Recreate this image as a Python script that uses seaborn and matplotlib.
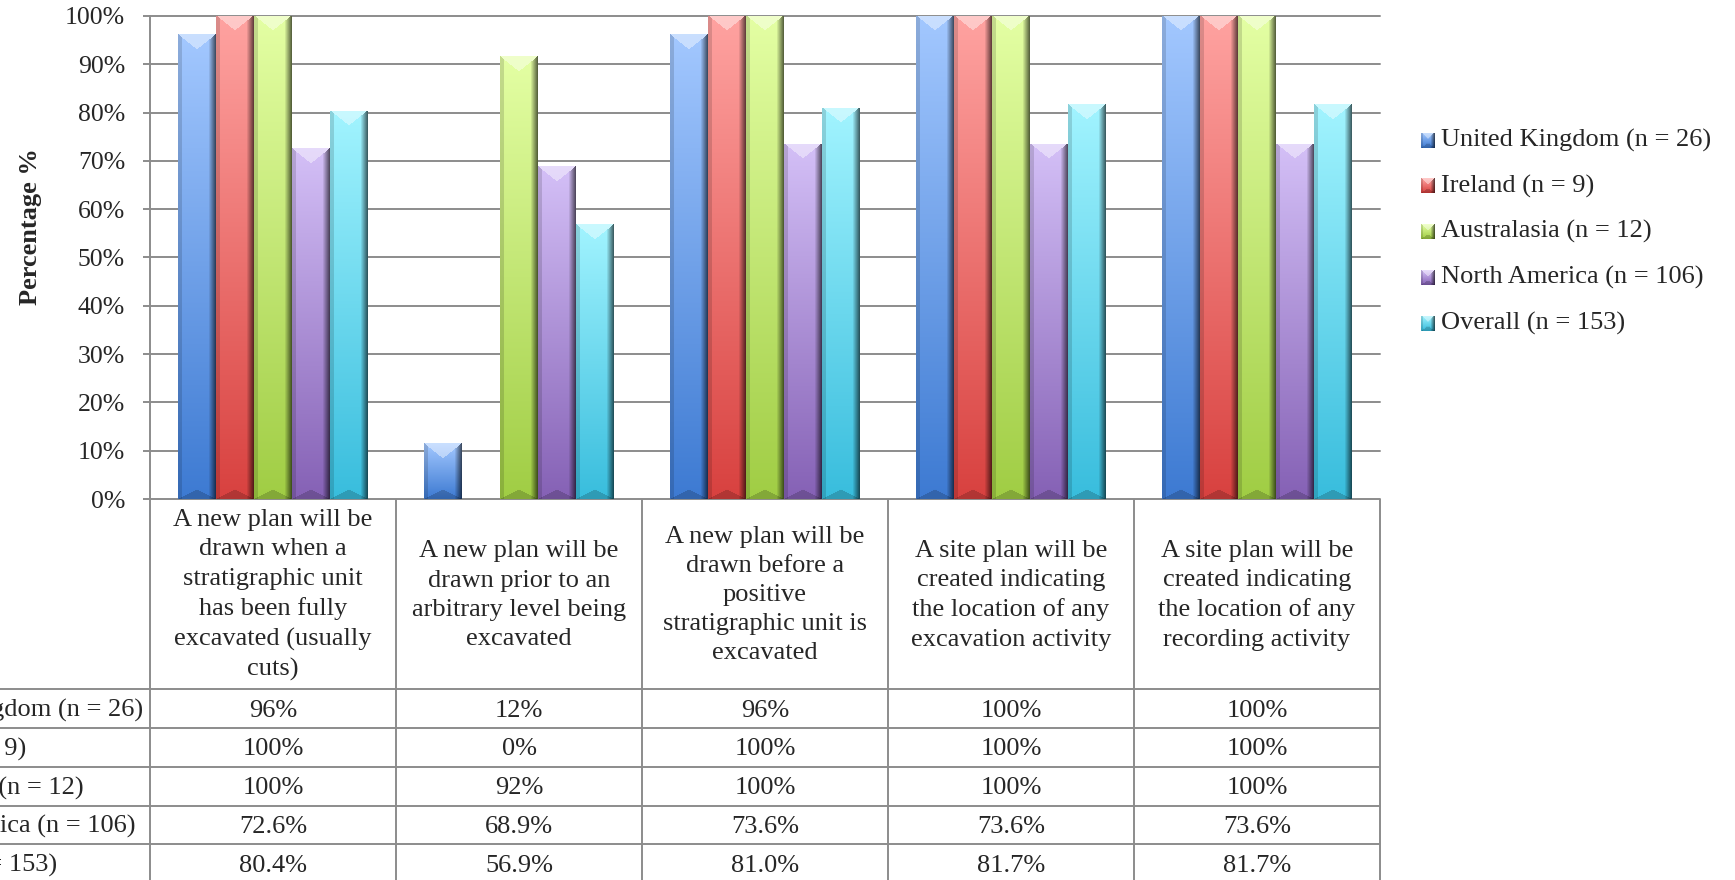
import numpy as np
import pandas as pd
import matplotlib
matplotlib.use("Agg")
import matplotlib.pyplot as plt
import seaborn as sns
from matplotlib.colors import to_rgb
from matplotlib.transforms import ScaledTranslation

# ---------------- data ----------------
categories = [
    "A new plan will be\ndrawn when a\nstratigraphic unit\nhas been fully\nexcavated (usually\ncuts)",
    "A new plan will be\ndrawn prior to an\narbitrary level being\nexcavated",
    "A new plan will be\ndrawn before a\npositive\nstratigraphic unit is\nexcavated",
    "A site plan will be\ncreated indicating\nthe location of any\nexcavation activity",
    "A site plan will be\ncreated indicating\nthe location of any\nrecording activity",
]
series = [
    "United Kingdom (n = 26)",
    "Ireland (n = 9)",
    "Australasia (n = 12)",
    "North America (n = 106)",
    "Overall (n = 153)",
]
united_kingdom = [96.2, 11.5, 96.2, 100.0, 100.0]
ireland = [100.0, 0.0, 100.0, 100.0, 100.0]
australasia = [100.0, 91.7, 100.0, 100.0, 100.0]
north_america = [72.6, 68.9, 73.6, 73.6, 73.6]
overall = [80.4, 56.9, 81.0, 81.7, 81.7]
table_decimals = [0, 0, 0, 1, 1]
y_ticks = [0, 10, 20, 30, 40, 50, 60, 70, 80, 90, 100]
y_label = "Percentage %"

# ---------------- style ----------------
top_colors = ["#A3C8FF", "#FFA3A1", "#E4FFA4", "#D4C0F7", "#A2F4FF"]
bottom_colors = ["#3D7AD2", "#D8413F", "#A0CD44", "#8561B5", "#38BDDD"]
mid_colors = ["#6FA0EA", "#EC6F6D", "#C2E674", "#AC8FD8", "#6DD8EE"]
GRID = "#8C8C8C"
FS = 19

sns.set_style("white")
plt.rcParams["font.family"] = ["Liberation Serif", "DejaVu Serif"]

W, H, DPI = 1735, 880, 100
AX_L, AX_R, AX_T, AX_B = 150, 1380, 16, 499
ROW_EDGES = [689.4, 728.1, 766.8, 805.5, 844.3, 883.0]

fig = plt.figure(figsize=(W / DPI, H / DPI), dpi=DPI)
ax = fig.add_axes([AX_L / W, 1 - AX_B / H, (AX_R - AX_L) / W, (AX_B - AX_T) / H])

values = [united_kingdom, ireland, australasia, north_america, overall]
rows = []
for s, vals in zip(series, values):
    for c, v in zip(categories, vals):
        rows.append({"category": c, "series": s, "value": v})
df = pd.DataFrame(rows)

sns.barplot(data=df, x="category", y="value", hue="series", order=categories,
            hue_order=series, palette=mid_colors, width=5 / 6.5, gap=0,
            saturation=1, edgecolor="none", linewidth=0, legend=False, ax=ax,
            errorbar=None, zorder=2)


def bevel_image(top, bot, ny, nx, depth=15, depth_b=9, edge_r=7, edge_l=4):
    ny = max(int(round(ny)), 2)
    nx = max(int(round(nx)), 2)
    top = np.array(to_rgb(top)); bot = np.array(to_rgb(bot))
    i = np.arange(ny)[:, None].astype(float)
    j = np.arange(nx)[None, :].astype(float)
    t = i / (ny - 1)
    base = top[None, None, :] * (1 - t[..., None]) + bot[None, None, :] * t[..., None]
    base = np.broadcast_to(base, (ny, nx, 3)).copy()
    cx = (nx - 1) / 2
    dx = np.abs(j - cx) / cx
    d = min(depth, ny / 2.2)
    db = min(depth_b, ny / 3)
    shade = np.ones((ny, nx))
    light = np.zeros((ny, nx))
    tri_top = i < d * (1 - dx)
    light = np.where(tri_top, 0.42, light)
    rmask = (j > nx - 1 - edge_r)
    rfac = (j - (nx - 1 - edge_r)) / edge_r
    shade = np.where(rmask & ~tri_top, 1 - 0.6 * np.clip(rfac, 0, 1), shade)
    lmask = (j < edge_l)
    shade = np.where(lmask & ~tri_top, shade * 0.86, shade)
    tri_bot = (ny - 1 - i) < db * (1 - dx)
    shade = np.where(tri_bot, shade * 0.82, shade)
    img = base * shade[..., None]
    img = img * (1 - light[..., None]) + light[..., None]
    return np.clip(img, 0, 1)


ax.set_xlim(-0.5, 4.5)
ax.set_ylim(0, 100)
ax_h_px = AX_B - AX_T
ax_w_px = AX_R - AX_L
for si, cont in enumerate(ax.containers):
    for bar in cont:
        h = bar.get_height()
        if h <= 0:
            continue
        x0 = bar.get_x(); w = bar.get_width()
        ny = h / 100 * ax_h_px
        nx = w / 5 * ax_w_px
        img = bevel_image(top_colors[si], bottom_colors[si], ny, nx)
        im = ax.imshow(img, extent=(x0, x0 + w, 0, h), origin="upper",
                       aspect="auto", interpolation="bilinear", zorder=3)
        im.set_clip_path(bar)

ax.set_xlim(-0.5, 4.5)
ax.set_ylim(0, 100)
ax.set_yticks(y_ticks)
ax.set_yticklabels([f"{v}%" for v in y_ticks])
ax.set_xticks([])
ax.set_xlabel("")
ax.set_ylabel("")
ax.yaxis.grid(True, color=GRID, linewidth=1.4)
ax.set_axisbelow(True)
for ln in ax.get_ygridlines():
    ln.set_clip_on(False)
for sp in ["top", "right", "bottom"]:
    ax.spines[sp].set_visible(False)
ax.spines["left"].set_color(GRID)
ax.spines["left"].set_linewidth(1.4)
ax.tick_params(axis="y", length=5, width=1.4, color=GRID, pad=13,
               labelsize=18.5, left=True)

fig.text(30 / W, 1 - 227 / H, y_label, rotation=90, fontweight="bold",
         fontsize=FS, ha="center", va="center")

# ---------------- data table ----------------
ax_t = fig.add_axes([AX_L / W, 0, (AX_R - AX_L) / W, 1 - AX_B / H])
ax_t.set_xlim(-0.5, 4.5)
ax_t.set_ylim(H, AX_B)
ax_t.axis("off")

for k in range(6):
    ax_t.plot([k - 0.5, k - 0.5], [AX_B, ROW_EDGES[-1]], color=GRID, lw=1.4,
              clip_on=False, solid_capstyle="butt")
for y in ROW_EDGES:
    ax_t.plot([-3, 4.5], [y, y], color=GRID, lw=1.4, clip_on=False,
              solid_capstyle="butt")

for ci, cat in enumerate(categories):
    ax_t.text(ci, (AX_B + ROW_EDGES[0]) / 2 + 1, cat, ha="center", va="center",
              fontsize=FS, linespacing=1.42, clip_on=False)

label_shift = ScaledTranslation(-(AX_L + 127) / DPI, 0, fig.dpi_scale_trans)
for si, (s, vals) in enumerate(zip(series, values)):
    yc = (ROW_EDGES[si] + ROW_EDGES[si + 1]) / 2 + 2
    ax_t.text(-0.5, yc, s, ha="left", va="center", fontsize=FS, clip_on=False,
              transform=ax_t.transData + label_shift)
    for ci, v in enumerate(vals):
        ax_t.text(ci, yc, f"{v:.{table_decimals[si]}f}%", ha="center",
                  va="center", fontsize=FS, clip_on=False)

# ---------------- legend ----------------
for si, s in enumerate(series):
    yc = 140.3 + si * 45.7
    mk = fig.add_axes([1421 / W, 1 - (yc + 7.5) / H, 14 / W, 15 / H])
    mk.imshow(bevel_image(top_colors[si], bottom_colors[si], 15, 14,
                          depth=6, depth_b=4, edge_r=4, edge_l=2),
              aspect="auto", interpolation="bilinear")
    mk.axis("off")
    fig.text(1441 / W, 1 - yc / H, s, ha="left", va="center", fontsize=FS)

fig.savefig("out.png", dpi=DPI)
